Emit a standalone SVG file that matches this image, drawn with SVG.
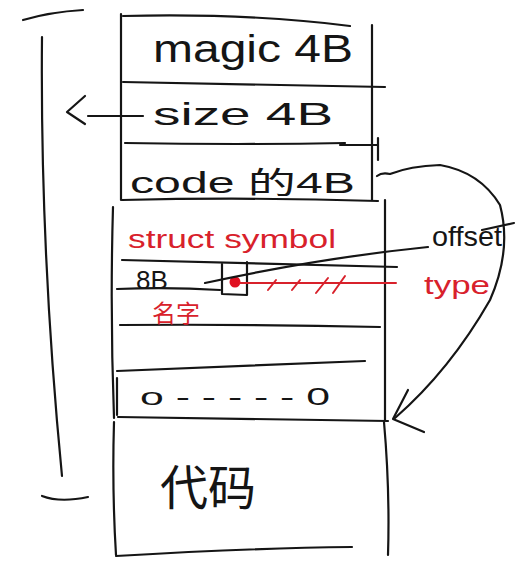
<svg xmlns="http://www.w3.org/2000/svg" width="519" height="561" viewBox="0 0 519 561">
<style>
.k{fill:none;stroke:#151515;stroke-width:2.2;stroke-linecap:round;stroke-linejoin:round}
.r{fill:none;stroke:#d8212b;stroke-width:2;stroke-linecap:round}
.t{font-family:"Liberation Sans","Noto Sans CJK SC",sans-serif;fill:#151515}
.tr{font-family:"Liberation Sans","Noto Sans CJK SC",sans-serif;fill:#d8212b}
</style>
<rect width="519" height="561" fill="#ffffff"/>
<g id="bracket">
<path class="k" d="M23 20 Q50 12 83 10"/>
<path class="k" d="M42 37 Q40 250 62 476"/>
<path class="k" d="M42 496 Q60 503 88 497"/>
</g>
<g id="header">
<path class="k" d="M121 14 L121 200"/>
<path class="k" d="M123 16 Q250 13 350 26"/>
<path class="k" d="M372 25 L372 200"/>
<path class="k" d="M123 82 Q250 84 385 87"/>
<path class="k" d="M125 143 Q240 145 345 143"/>
<path class="k" d="M340 145 L378 145"/>
<path class="k" d="M378 138 L378 160"/>
<path class="k" d="M122 200 Q250 197 378 201"/>
</g>
<g id="row-magic"><text class="t" x="153" y="62" font-size="38" textLength="200" lengthAdjust="spacingAndGlyphs">magic 4B</text></g>
<g id="row-size"><text class="t" x="153" y="125" font-size="32" textLength="180" lengthAdjust="spacingAndGlyphs">size    4B</text></g>
<g id="row-code"><text class="t" x="130" y="193" font-size="30" textLength="225" lengthAdjust="spacingAndGlyphs">code  的4B</text></g>
<g id="struct-symbol">
<path class="k" d="M113 207 Q110 310 114 418"/>
<path class="k" d="M385 200 L385 420"/>
<path class="k" d="M122 260 Q260 264 397 267"/>
<path class="k" d="M117 289 Q170 287 220 290"/>
<path class="k" d="M120 325 Q250 324 380 327"/>
<path class="k" d="M117 371 Q240 366 365 361"/>
<text class="tr" x="128" y="248" font-size="26" textLength="208" lengthAdjust="spacingAndGlyphs">struct symbol</text>
<text class="t" x="136" y="289" font-size="26">8B</text>
<text class="tr" x="152" y="322" font-size="24">名字</text>
<path class="k" d="M222 264 L222 294 L247 295 L247 262"/>
<circle cx="235" cy="282" r="5.5" fill="#e01020"/>
<path class="r" d="M240 283 L396 283"/>
<path class="r" d="M268 290 L276 280 M292 290 L300 280 M316 293 L328 278 M333 293 L345 276"/>
<text class="tr" x="424" y="294" font-size="26" textLength="66" lengthAdjust="spacingAndGlyphs">type</text>
</g>
<g id="row-zero">
<path class="k" d="M117 378 L117 415"/>
<text class="t" x="140" y="405" font-size="24" textLength="190" lengthAdjust="spacingAndGlyphs">o - - - - - 0</text>
<path class="k" d="M118 417 Q250 419 388 421"/>
</g>
<g id="code-section">
<path class="k" d="M114 422 Q112 490 116 555"/>
<path class="k" d="M384 422 Q390 490 388 555"/>
<path class="k" d="M116 556 Q250 548 352 547"/>
<text class="t" x="160" y="505" font-size="48">代码</text>
</g>
<g id="connectors">
<path class="k" d="M143 116 L88 116"/>
<path class="k" d="M85 96 L67 112 L85 124"/>
<path class="k" d="M205 283 Q320 258 428 247"/>
<text class="t" x="432" y="246" font-size="28" textLength="70" lengthAdjust="spacingAndGlyphs">offset</text>
<path class="k" d="M482 230 L514 223"/>
<path class="k" d="M377 176 Q382 172 390 174 Q410 166 440 165 Q480 172 500 205 Q512 250 490 300 Q450 370 395 418"/>
<path class="k" d="M408 390 L393 419 L424 432"/>
</g>
</svg>
